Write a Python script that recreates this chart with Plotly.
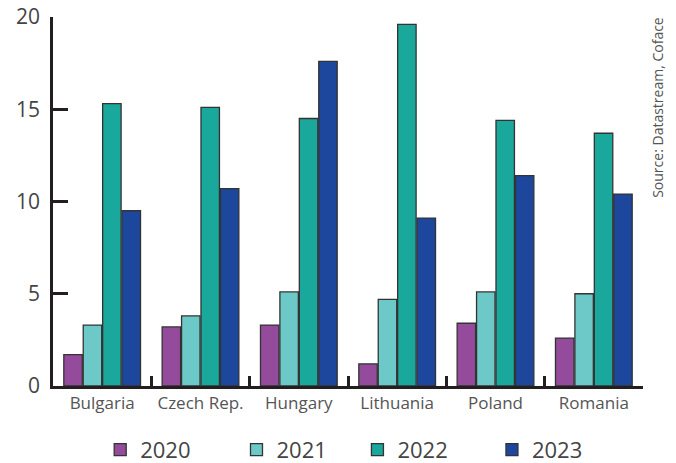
import plotly.graph_objects as go

countries = ["Bulgaria", "Czech Rep.", "Hungary", "Lithuania", "Poland", "Romania"]
years = ["2020", "2021", "2022", "2023"]
v2020 = [1.7, 3.2, 3.3, 1.2, 3.4, 2.6]
v2021 = [3.3, 3.8, 5.1, 4.7, 5.1, 5.0]
v2022 = [15.3, 15.1, 14.5, 19.6, 14.4, 13.7]
v2023 = [9.5, 10.7, 17.6, 9.1, 11.4, 10.4]
series = [v2020, v2021, v2022, v2023]
colors = ["#944b9b", "#6cc9c7", "#1ba89c", "#1c479c"]

AX = "#231f20"
FONT = "Open Sans, Lato, sans-serif"

legend_ids = ["legend", "legend2", "legend3", "legend4"]
legend_x = [0.080, 0.311, 0.516, 0.744]

fig = go.Figure()
for name, vals, col, lid in zip(years, series, colors, legend_ids):
    fig.add_trace(go.Bar(
        x=countries, y=vals, name=name, legend=lid, showlegend=True,
        marker=dict(color=col, line=dict(color="#333333", width=1.3)),
    ))

layout_legends = {}
for lid, lx in zip(legend_ids, legend_x):
    layout_legends[lid] = dict(
        orientation="h", x=lx, xanchor="left", y=-0.173, yanchor="middle",
        font=dict(size=22, color="#444444"), bgcolor="rgba(0,0,0,0)",
    )

fig.update_layout(
    width=676, height=463,
    showlegend=True,
    margin=dict(l=53, r=33, t=17, b=77, autoexpand=False),
    paper_bgcolor="white", plot_bgcolor="white",
    barmode="group", bargap=0.21, bargroupgap=0.05,
    font=dict(family=FONT, color="#555555"),
    xaxis=dict(
        showline=True, linecolor=AX, linewidth=2.5,
        ticks="inside", tickson="boundaries", ticklen=10, tickwidth=2.5, tickcolor=AX,
        tickfont=dict(size=17, color="#555555"), showgrid=False,
    ),
    yaxis=dict(
        range=[0, 20], dtick=5, showline=True, linecolor=AX, linewidth=2.5,
        ticks="inside", ticklen=15, tickwidth=2.5, tickcolor=AX,
        tickfont=dict(size=21, color="#444444"), showgrid=False, zeroline=False,
        ticklabelstandoff=6,
    ),
    annotations=[dict(
        text="Source: Datastream, Coface", xref="paper", yref="paper",
        x=1.024, y=1.005, xanchor="center", yanchor="top", textangle=-90,
        showarrow=False, font=dict(size=14, color="#555555"),
    )],
    **layout_legends,
)

fig.write_html("out.html")
